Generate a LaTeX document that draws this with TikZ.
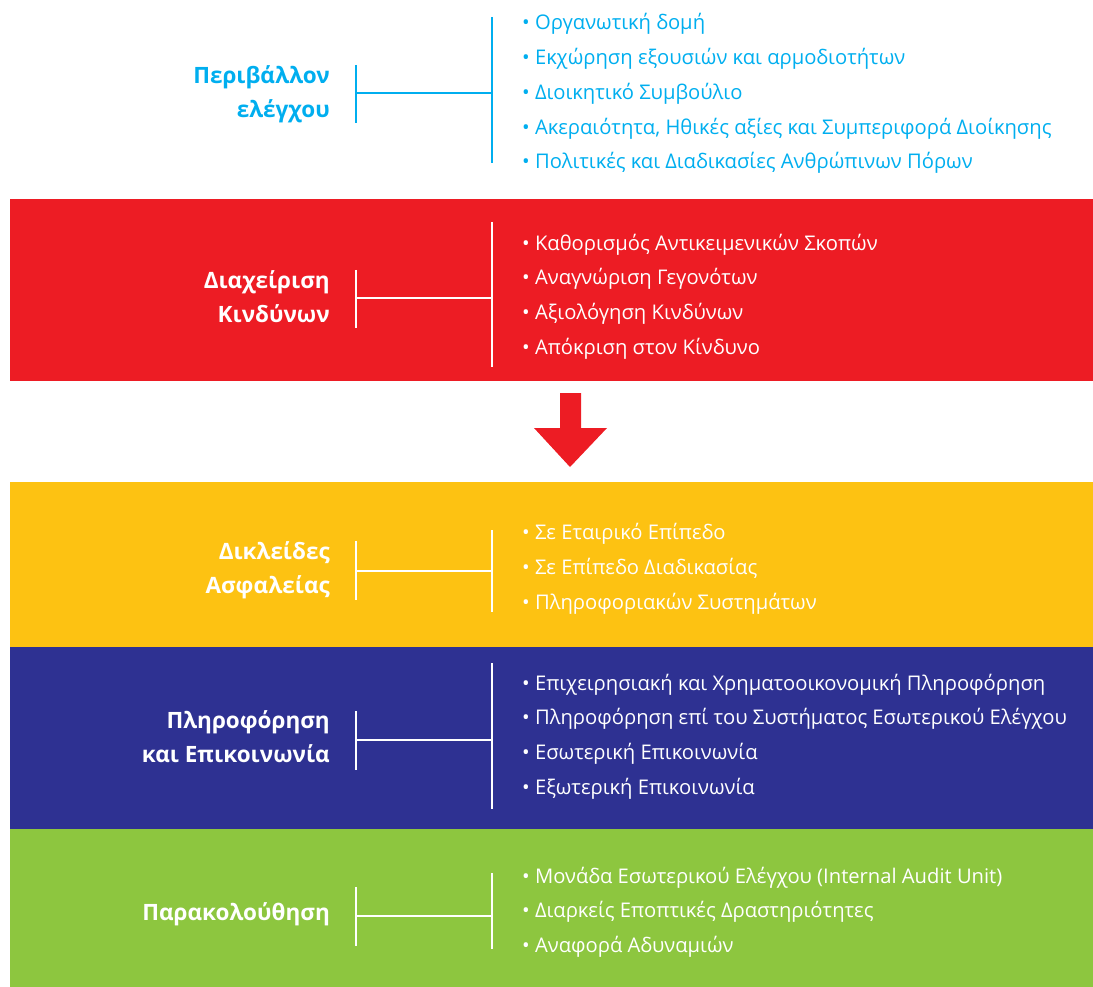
\documentclass[tikz,border=0pt]{standalone}
\usepackage{fontspec}
\setmainfont{Open Sans}
\usepackage{xcolor}
\usepackage{tikz}
\usetikzlibrary{positioning}

\definecolor{envblue}{HTML}{00AEEF}
\definecolor{riskred}{HTML}{ED1C24}
\definecolor{safeyellow}{HTML}{FDC212}
\definecolor{infoblue}{HTML}{2E3192}
\definecolor{monigreen}{HTML}{8DC63F}

\begin{document}
\begin{tikzpicture}[x=1pt, y=-1pt, inner sep=0pt,
  title/.style={font=\fontsize{22.5}{34}\selectfont\bfseries, align=right, anchor=east, yshift=-2pt},
  item/.style={font=\fontsize{20.2}{24}\selectfont, anchor=mid west, yshift=-4.5pt},
  bar/.style={line width=2pt}]

\useasboundingbox (0,0) rectangle (1093,987);

% bands
\fill[riskred]    (10,199) rectangle (1093,381);
\fill[safeyellow] (10,482) rectangle (1093,647);
\fill[infoblue]   (10,647) rectangle (1093,829);
\fill[monigreen]  (10,829) rectangle (1093,987);

% arrow between risk and safeguards
\fill[riskred] (560,393) -- (581,393) -- (581,428) -- (607,428)
  -- (570,467) -- (534,428) -- (560,428) -- cycle;

% Περιβάλλον ελέγχου
\begin{scope}[every node/.style={text=envblue}, envblue]
\node[title] (env) at (330,92) {Περιβάλλον\\ελέγχου};
\node[item] (env1) at (522,22)  {\textbullet\ Οργανωτική δομή};
\node[item] (env2) at (522,57)  {\textbullet\ Εκχώρηση εξουσιών και αρμοδιοτήτων};
\node[item] (env3) at (522,92)  {\textbullet\ Διοικητικό Συμβούλιο};
\node[item] (env4) at (522,127) {\textbullet\ Ακεραιότητα, Ηθικές αξίες και Συμπεριφορά Διοίκησης};
\node[item] (env5) at (522,161) {\textbullet\ Πολιτικές και Διαδικασίες Ανθρώπινων Πόρων};
\coordinate (envL) at (356,93);
\coordinate (envR) at (492,93);
\draw[bar] (356,65) -- (356,123);
\draw[bar] (492,17) -- (492,163);
\draw[bar] (envL) -- (envR);
\end{scope}

% Διαχείριση Κινδύνων
\begin{scope}[every node/.style={text=white}, white]
\node[title] (risk) at (330,295) {Διαχείριση\\Κινδύνων};
\node[item] (risk1) at (522,243) {\textbullet\ Καθορισμός Αντικειμενικών Σκοπών};
\node[item] (risk2) at (522,277) {\textbullet\ Αναγνώριση Γεγονότων};
\node[item] (risk3) at (522,312) {\textbullet\ Αξιολόγηση Κινδύνων};
\node[item] (risk4) at (522,347) {\textbullet\ Απόκριση στον Κίνδυνο};
\coordinate (riskL) at (356,298);
\coordinate (riskR) at (492,298);
\draw[bar] (356,270) -- (356,328);
\draw[bar] (492,222) -- (492,367);
\draw[bar] (riskL) -- (riskR);

% Δικλείδες Ασφαλείας
\node[title] (safe) at (330,568) {Δικλείδες\\Ασφαλείας};
\node[item] (safe1) at (522,532) {\textbullet\ Σε Εταιρικό Επίπεδο};
\node[item] (safe2) at (522,567) {\textbullet\ Σε Επίπεδο Διαδικασίας};
\node[item] (safe3) at (522,602) {\textbullet\ Πληροφοριακών Συστημάτων};
\coordinate (safeL) at (356,571);
\coordinate (safeR) at (492,571);
\draw[bar] (356,541) -- (356,600);
\draw[bar] (492,530) -- (492,612);
\draw[bar] (safeL) -- (safeR);

% Πληροφόρηση και Επικοινωνία
\node[title] (info) at (330,735) {Πληροφόρηση\\και Επικοινωνία};
\node[item] (info1) at (522,683) {\textbullet\ Επιχειρησιακή και Χρηματοοικονομική Πληροφόρηση};
\node[item] (info2) at (522,717) {\textbullet\ Πληροφόρηση επί του Συστήματος Εσωτερικού Ελέγχου};
\node[item] (info3) at (522,752) {\textbullet\ Εσωτερική Επικοινωνία};
\node[item] (info4) at (522,787) {\textbullet\ Εξωτερική Επικοινωνία};
\coordinate (infoL) at (356,740);
\coordinate (infoR) at (492,740);
\draw[bar] (356,711) -- (356,770);
\draw[bar] (492,663) -- (492,809);
\draw[bar] (infoL) -- (infoR);

% Παρακολούθηση
\node[title] (moni) at (330,912) {Παρακολούθηση};
\node[item] (moni1) at (522,876) {\textbullet\ Μονάδα Εσωτερικού Ελέγχου (Internal Audit Unit)};
\node[item] (moni2) at (522,910) {\textbullet\ Διαρκείς Εποπτικές Δραστηριότητες};
\node[item] (moni3) at (522,945) {\textbullet\ Αναφορά Αδυναμιών};
\coordinate (moniL) at (356,916);
\coordinate (moniR) at (492,916);
\draw[bar] (356,887) -- (356,946);
\draw[bar] (492,873) -- (492,949);
\draw[bar] (moniL) -- (moniR);
\end{scope}
\end{tikzpicture}
\end{document}
